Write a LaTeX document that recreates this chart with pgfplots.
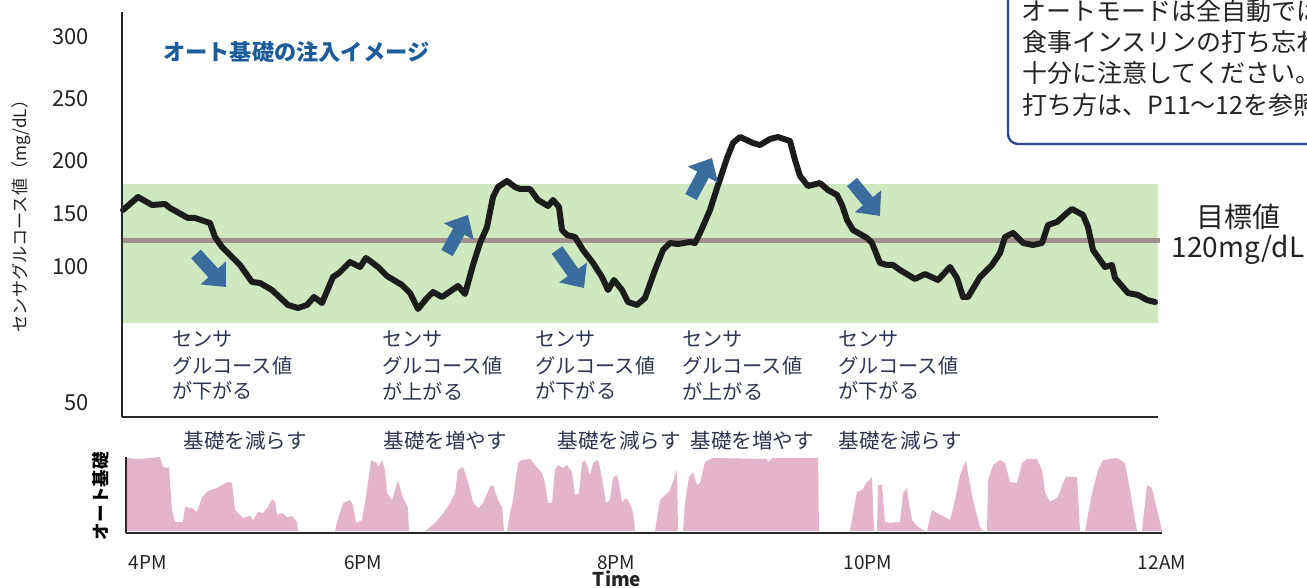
\documentclass[border=0pt]{standalone}
\usepackage{fontspec}
\setmainfont{Noto Sans CJK JP}
\usepackage{pgfplots}
\pgfplotsset{compat=1.18}
\usetikzlibrary{arrows.meta}
\definecolor{bandgreen}{RGB}{206,232,191}
\definecolor{targetc}{RGB}{163,144,138}
\definecolor{curvec}{RGB}{28,28,28}
\definecolor{pinkc}{RGB}{228,181,202}
\definecolor{arrowc}{RGB}{58,108,158}
\definecolor{navy}{RGB}{45,53,83}
\definecolor{titlec}{RGB}{27,92,155}
\definecolor{boxc}{RGB}{43,74,130}
\definecolor{axisc}{RGB}{40,40,40}
\definecolor{textc}{RGB}{35,35,35}
\tikzset{annot/.style={anchor=west, text=navy, font=\fontsize{10.1}{12}\selectfont, inner sep=0pt},
  basal/.style={anchor=west, text=navy, font=\fontsize{10.3}{12}\selectfont, inner sep=0pt},
  boxtext/.style={anchor=west, text=textc, font=\fontsize{12.5}{14}\selectfont, inner sep=0pt},
  dirarrow/.style={arrowc, line width=6.5pt, -{Triangle[length=9.5pt,width=16.5pt]}}}
\begin{document}
\begin{tikzpicture}
% ---------------- top axis (sensor glucose) ----------------
\begin{axis}[
  at={(61pt,-208.5pt)}, anchor=south west,
  scale only axis, width=518pt, height=202.5pt,
  xmin=122, xmax=1158, ymin=-417, ymax=-12,
  axis x line=bottom, axis y line=left,
  axis line style={-, line width=1.35pt, draw=axisc},
  xtick=\empty,
  ytick={-37,-99,-161,-214,-267,-403},
  yticklabels={\mbox{300},\mbox{250},\mbox{200},\mbox{150},\mbox{100},\mbox{50}},
  major tick length=0pt,
  /pgf/number format/assume math mode=true,
  yticklabel style={font=\fontsize{11}{13}\selectfont, text=textc, xshift=-13pt},
  clip=false, axis on top,
]
% target range band
\addplot[draw=none, fill=bandgreen, forget plot] coordinates {(122,-184) (1158,-184) (1158,-323) (122,-323)};
% target line 120 mg/dL
\addplot[targetc, line width=2.5pt, forget plot] coordinates {(122,-241) (1160,-241)};
% sensor glucose curve
\addplot[curvec, line width=3pt, line join=round, line cap=round, forget plot] coordinates {
(123,-210) (138,-197) (152,-205) (165,-204) (170,-208) (188,-218) (195,-218) (210,-223)
(215,-237) (222,-247) (240,-265) (252,-282) (260,-283) (272,-290) (288,-305) (298,-308)
(307,-305) (314,-297) (322,-303) (333,-277) (339,-273) (350,-262) (360,-267) (366,-258)
(378,-267) (387,-276) (402,-285) (410,-293) (418,-309) (427,-298) (433,-292) (442,-297)
(458,-286) (465,-294) (473,-265) (480,-243) (487,-227) (493,-197) (498,-187) (507,-181)
(515,-187) (520,-189) (530,-189) (538,-200) (548,-206) (553,-200) (559,-207) (562,-230)
(567,-235) (575,-237) (583,-250) (593,-263) (602,-277) (608,-290) (614,-280) (622,-290)
(628,-302) (637,-305) (645,-298) (655,-270) (663,-250) (670,-243) (678,-244) (690,-242)
(695,-243) (700,-233) (710,-210) (718,-185) (727,-158) (733,-143) (740,-137) (753,-143)
(760,-145) (770,-139) (778,-137) (790,-141) (795,-160) (800,-176) (808,-186) (820,-183)
(828,-190) (837,-195) (842,-205) (847,-220) (853,-230) (867,-238) (872,-243) (880,-263)
(887,-265) (893,-265) (900,-270) (915,-279) (925,-274) (938,-280) (950,-267) (957,-278)
(963,-297) (968,-297) (980,-277) (992,-265) (1000,-253) (1005,-237) (1013,-233) (1023,-243)
(1033,-245) (1042,-243) (1048,-225) (1057,-222) (1067,-213) (1072,-209) (1083,-215) (1088,-227)
(1093,-250) (1105,-267) (1112,-265) (1115,-278) (1128,-293) (1138,-295) (1147,-300) (1155,-302)
};
% direction arrows
\draw[dirarrow] (axis cs:196,-254) -- (axis cs:226,-287);
\draw[dirarrow] (axis cs:447,-253) -- (axis cs:468,-215);
\draw[dirarrow] (axis cs:557,-250) -- (axis cs:584,-288);
\draw[dirarrow] (axis cs:691,-197) -- (axis cs:712,-158);
\draw[dirarrow] (axis cs:852,-182) -- (axis cs:880,-216);
% title
\node[anchor=west, text=titlec, font=\fontsize{11.1}{13}\selectfont\bfseries, inner sep=0pt] at (axis cs:163,-52) {オート基礎の注入イメージ};
% y label
\node[rotate=90, text=textc, font=\fontsize{8.6}{10}\selectfont, inner sep=0pt] at (axis cs:21,-212) {センサグルコース値（mg/dL）};
% target label
\node[text=textc, font=\fontsize{14}{16}\selectfont, inner sep=0pt] at (axis cs:1238,-217) {目標値};
\node[text=textc, font=\fontsize{14}{16}\selectfont, inner sep=0pt] at (axis cs:1238,-250) {120mg/dL};
% sensor annotations
\node[annot] at (axis cs:172,-339) {センサ};
\node[annot] at (axis cs:172,-366) {グルコース値};
\node[annot] at (axis cs:172,-391) {が下がる};
\node[annot] at (axis cs:382,-339) {センサ};
\node[annot] at (axis cs:382,-366) {グルコース値};
\node[annot] at (axis cs:382,-391) {が上がる};
\node[annot] at (axis cs:535,-339) {センサ};
\node[annot] at (axis cs:535,-366) {グルコース値};
\node[annot] at (axis cs:535,-391) {が下がる};
\node[annot] at (axis cs:682,-339) {センサ};
\node[annot] at (axis cs:682,-366) {グルコース値};
\node[annot] at (axis cs:682,-391) {が上がる};
\node[annot] at (axis cs:838,-339) {センサ};
\node[annot] at (axis cs:838,-366) {グルコース値};
\node[annot] at (axis cs:838,-391) {が下がる};
% basal annotations
\node[basal] at (axis cs:183,-441) {基礎を減らす};
\node[basal] at (axis cs:383,-441) {基礎を増やす};
\node[basal] at (axis cs:557,-441) {基礎を減らす};
\node[basal] at (axis cs:690,-441) {基礎を増やす};
\node[basal] at (axis cs:838,-441) {基礎を減らす};
% callout box
\draw[boxc, line width=1.2pt, rounded corners=5pt, fill=white] (axis cs:1008,-144) rectangle (axis cs:1340,30);
\node[boxtext] at (axis cs:1021,-11) {オートモードは全自動ではありません。};
\node[boxtext] at (axis cs:1022,-42) {食事インスリンの打ち忘れに};
\node[boxtext] at (axis cs:1022,-73) {十分に注意してください。};
\node[boxtext] at (axis cs:1022,-105) {打ち方は、P11〜12を参照してください。};
\end{axis}
% ---------------- bottom axis (auto basal) ----------------
\begin{axis}[
  at={(63pt,-266.5pt)}, anchor=south west,
  scale only axis, width=518pt, height=38pt,
  xmin=126, xmax=1162, ymin=-533, ymax=-457,
  axis x line=bottom, axis y line=left,
  axis line style={-, line width=1.35pt, draw=axisc},
  ytick=\empty,
  xtick={148,363,616,868,1162},
  xticklabels={4PM,6PM,8PM,10PM,12AM},
  major tick length=0pt,
  xticklabel style={font=\fontsize{9.5}{11}\selectfont, text=textc, yshift=-8pt},
  clip=false, axis on top,
]
\addplot[draw=none, fill=pinkc, forget plot] coordinates {(127,-531) (127,-458) (140,-459) (160,-457) (163,-467) (167,-468) (169,-467) (172,-510) (175,-522) (183,-522) (185,-507) (192,-508) (197,-512) (202,-497) (208,-491) (217,-488) (222,-485) (228,-482) (232,-483) (235,-510) (243,-518) (250,-516) (253,-520) (258,-512) (263,-513) (268,-507) (272,-499) (275,-502) (277,-515) (282,-513) (287,-517) (292,-516) (297,-522) (298,-531)};
\addplot[draw=none, fill=pinkc, forget plot] coordinates {(335,-531) (337,-522) (343,-503) (350,-500) (353,-505) (356,-523) (362,-520) (367,-490) (371,-460) (377,-463) (378,-467) (382,-460) (385,-470) (387,-493) (392,-500) (395,-490) (398,-480) (403,-498) (408,-508) (409,-531)};
\addplot[draw=none, fill=pinkc, forget plot] coordinates {(425,-531) (433,-525) (442,-515) (450,-503) (455,-493) (458,-470) (463,-467) (468,-482) (473,-502) (478,-508) (483,-503) (490,-487) (493,-485) (498,-500) (502,-507) (504,-531)};
\addplot[draw=none, fill=pinkc, forget plot] coordinates {(507,-531) (510,-513) (513,-500) (518,-463) (522,-460) (530,-459) (535,-465) (542,-473) (545,-483) (548,-503) (552,-503) (555,-470) (558,-465) (563,-468) (567,-465) (572,-472) (575,-495) (579,-493) (582,-463) (585,-460) (587,-465) (590,-475) (593,-463) (597,-460) (599,-463) (602,-478) (606,-503) (610,-500) (613,-478) (617,-475) (619,-483) (622,-502) (626,-498) (629,-502) (633,-512) (635,-531)};
\addplot[draw=none, fill=pinkc, forget plot] coordinates {(655,-531) (660,-500) (665,-495) (670,-490) (677,-470) (678,-531)};
\addplot[draw=none, fill=pinkc, forget plot] coordinates {(683,-531) (685,-503) (689,-477) (693,-472) (697,-485) (700,-483) (705,-462) (708,-460) (713,-458) (767,-459) (768,-462) (772,-458) (818,-458) (819,-531)};
\addplot[draw=none, fill=pinkc, forget plot] coordinates {(850,-531) (857,-492) (862,-490) (867,-482) (872,-477) (874,-531)};
\addplot[draw=none, fill=pinkc, forget plot] coordinates {(877,-531) (878,-485) (882,-485) (885,-522) (890,-523) (900,-522) (903,-493) (907,-488) (908,-497) (912,-520) (918,-527) (925,-531)};
\addplot[draw=none, fill=pinkc, forget plot] coordinates {(927,-531) (932,-510) (937,-513) (950,-520) (955,-500) (960,-475) (966,-460) (968,-473) (973,-500) (980,-527) (983,-531)};
\addplot[draw=none, fill=pinkc, forget plot] coordinates {(987,-531) (988,-480) (993,-465) (1000,-460) (1005,-463) (1010,-482) (1017,-483) (1022,-463) (1027,-459) (1037,-459) (1042,-470) (1045,-492) (1050,-502) (1058,-497) (1063,-483) (1066,-477) (1077,-477) (1080,-531)};
\addplot[draw=none, fill=pinkc, forget plot] coordinates {(1085,-531) (1092,-493) (1098,-470) (1103,-460) (1117,-458) (1125,-463) (1130,-490) (1137,-531)};
\addplot[draw=none, fill=pinkc, forget plot] coordinates {(1142,-531) (1147,-485) (1152,-488) (1162,-531)};
\node[rotate=90, text=black, font=\fontsize{8.8}{10}\selectfont\bfseries, inner sep=0pt] at (axis cs:101,-496) {オート基礎};
\node[text=textc, font=\fontsize{9.5}{11}\selectfont\bfseries, inner sep=0pt] at (axis cs:617,-579) {Time};
\end{axis}
\pgfresetboundingbox
\useasboundingbox (0,0) rectangle (653.5pt,-294pt);
\end{tikzpicture}
\end{document}
